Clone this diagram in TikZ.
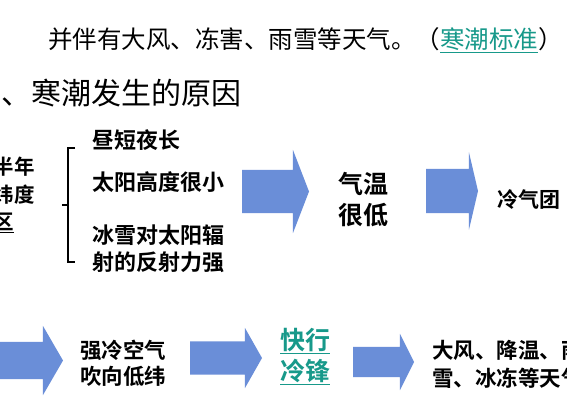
\documentclass[tikz,border=0pt]{standalone}
\usepackage{fontspec}
\setmainfont{Noto Sans CJK SC}[BoldFont={Noto Sans CJK SC Bold}]
\usetikzlibrary{shapes.arrows, positioning}
\definecolor{arrowblue}{HTML}{6A8ED8}
\definecolor{linkteal}{HTML}{17998A}

\begin{document}
\begin{tikzpicture}[
  x=1pt, y=-1pt,
  txt/.style={inner sep=0pt, anchor=west, align=left, font=\fontsize{22}{27}\selectfont\bfseries},
  big/.style={inner sep=0pt, align=center, font=\fontsize{25}{31}\selectfont\bfseries},
  title/.style={inner sep=0pt, anchor=west, font=\fontsize{24.5}{28}\selectfont},
  blk/.style n args={4}{single arrow, fill=arrowblue, inner xsep=0pt, inner ysep=#2, outer sep=0pt, anchor=tail,
     minimum height=#1, single arrow head extend=#3, single arrow tip angle=#4},
  brace/.style={line width=2.4pt}
]
\useasboundingbox (0,0) rectangle (567,400);
\fill[white] (0,0) rectangle (567,400);
\clip (0,0) rectangle (567,400);

% heading lines
\node[title] (line) at (48,40) {并伴有大风、冻害、雨雪等天气。（{\color{linkteal}\underline{寒潮标准}}）};
\node[title, font=\fontsize{30}{34}\selectfont] (head) at (-28.6,93) {一、寒潮发生的原因};

% first row
\node[txt, font=\fontsize{20.5}{27.5}\selectfont\bfseries] (region) at (-27,195) {冬半年\\高纬度\\\underline{地区}};
\draw[brace] (75,148) -- (68,148) -- (68,262) -- (75,262);
\draw[brace] (68,205) -- (62,205);
\node[txt] (day)  at (92,140)   {昼短夜长};
\node[txt] (sun)  at (92,182)   {太阳高度很小};
\node[txt] (snow) at (92,248.5) {冰雪对太阳辐\\射的反射力强};

\node[blk={67}{21.5}{20}{137.8}]   (a1) at (242,191.5) {};
\node[big] (temp) at (363,199.5) {气温\\很低};
\node[blk={52}{22}{16.5}{153.7}]   (a2) at (426,191) {};
\node[txt, font=\fontsize{21}{26}\selectfont\bfseries] (cold) at (497,200) {冷气团};

% second row
\node[blk={83}{18.5}{16}{119.8}]   (a3) at (-20,360.5) {};
\node[txt, font=\fontsize{21.5}{26}\selectfont\bfseries] (flow) at (80,363) {强冷空气\\吹向低纬};
\node[blk={72}{16.5}{13.5}{120.9}] (a4) at (190,358) {};
\node[big, text=linkteal] (front) at (305,356.5) {\underline{快行}\\\underline{冷锋}};
\node[blk={61}{15}{13}{126.9}]     (a5) at (353,362) {};
\node[txt, font=\fontsize{21.5}{28}\selectfont\bfseries] (weather) at (432,364) {大风、降温、雨\\雪、冰冻等天气};
\end{tikzpicture}
\end{document}
